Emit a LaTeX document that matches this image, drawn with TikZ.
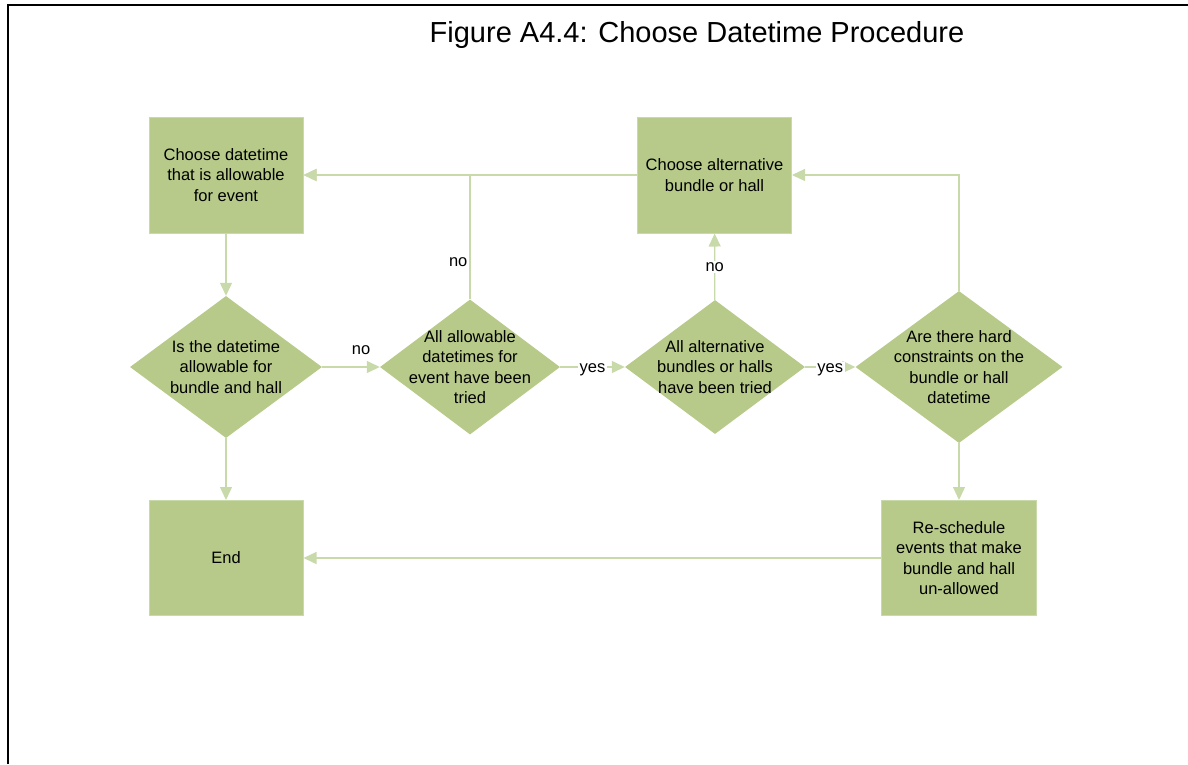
\documentclass[tikz,border=0pt]{standalone}
\usepackage{fontspec}
\setmainfont{Liberation Sans}
\usetikzlibrary{shapes.geometric,arrows.meta}

\definecolor{boxgreen}{HTML}{B7CA8A}
\definecolor{linegreen}{HTML}{C8DAAA}

\tikzset{
  procbox/.style={draw=linegreen, line width=1pt, fill=boxgreen, inner sep=0pt,
    minimum width=154pt, minimum height=116pt, align=center},
  decision/.style={diamond, draw=none, fill=boxgreen, inner sep=0pt},
  dtext/.style={align=center, inner sep=0pt},
  flow/.style={draw=linegreen, line width=1.3pt, -{Triangle[length=13pt,width=12pt]}},
  flowlabel/.style={inner sep=1.5pt, fill=white}
}

\begin{document}
\begin{tikzpicture}[x=1pt, y=-1pt, every node/.style={font=\fontsize{16.5}{20.5}\selectfont}]
  \useasboundingbox (0,0) rectangle (1188,764);

  % 外枠 (左辺と上辺)
  \draw[line width=2pt] (8,764) -- (8,5) -- (1188,5);

  % タイトル
  \node[font=\fontsize{29}{34}\selectfont] (title) at (697,35) {Figure A4.4: Choose Datetime Procedure};

  % 上段の箱
  \node[procbox] (box1) at (226,175) {Choose datetime\\that is allowable\\for event};
  \node[procbox] (box2) at (714.5,175) {Choose alternative\\bundle or hall};

  % 中段の判断 (菱形)
  \node[decision, minimum width=192pt, minimum height=142pt] (d1) at (226,367) {};
  \node[dtext] (d1t) at (d1) {Is the datetime\\allowable for\\bundle and hall};
  \node[decision, minimum width=180pt, minimum height=135pt] (d2) at (470,367) {};
  \node[dtext] (d2t) at (d2) {All allowable\\datetimes for\\event have been\\tried};
  \node[decision, minimum width=180pt, minimum height=134pt] (d3) at (715,367) {};
  \node[dtext] (d3t) at (d3) {All alternative\\bundles or halls\\have been tried};
  \node[decision, minimum width=207pt, minimum height=152pt] (d4) at (959,367) {};
  \node[dtext] (d4t) at (d4) {Are there hard\\constraints on the\\bundle or hall\\datetime};

  % 下段の箱
  \node[procbox, minimum height=115pt] (done) at (226,558) {End};
  \node[procbox, minimum width=155pt, minimum height=115pt] (resched) at (959,558) {Re-schedule\\events that make\\bundle and hall\\un-allowed};

  % 矢印
  \draw[flow] (box1) -- (d1);
  \draw[flow] (d1) -- (done);
  \draw[flow] (d1) -- node[flowlabel, above=10pt, xshift=10pt] (no1) {no} (d2);
  \draw[flow] (d2) |- node[pos=0.15, left, inner sep=2pt] (no2) {no} (box1);
  \draw[flow] (box2) -- (box1);
  \draw[flow] (d2) -- node[flowlabel, yshift=-2.5pt] (yes1) {yes} (d3);
  \draw[flow] (d3) -- node[flowlabel] (no3) {no} (box2);
  \draw[flow] (d3) -- node[flowlabel, yshift=-2.5pt] (yes2) {yes} (d4);
  \draw[flow] (d4) |- (box2);
  \draw[flow] (d4) -- (resched);
  \draw[flow] (resched) -- (done);

\end{tikzpicture}
\end{document}
